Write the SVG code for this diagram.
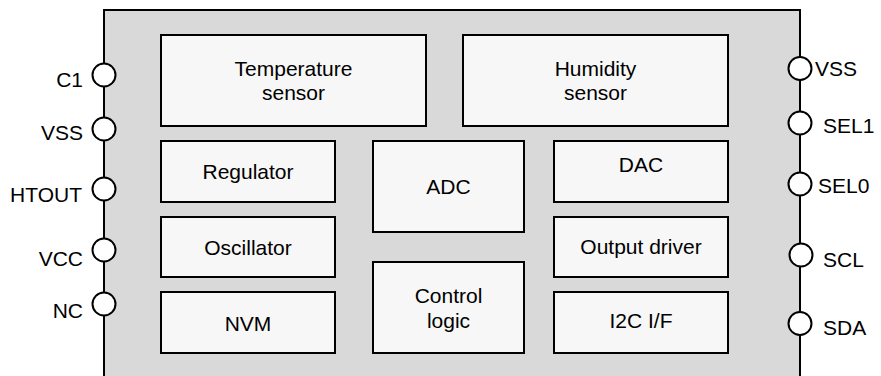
<svg xmlns="http://www.w3.org/2000/svg" width="881" height="376" viewBox="0 0 881 376">
<style>
.chip{fill:#d9d9d9;stroke:#000;stroke-width:2}
.blk{fill:#f7f7f7;stroke:#000;stroke-width:2}
.pin{fill:#fff;stroke:#000;stroke-width:2}
text{font-family:"Liberation Sans",Arial,sans-serif;font-size:21px;fill:#000}
.c{text-anchor:middle}
.l{text-anchor:end}
</style>
<rect id="chip" class="chip" x="104" y="10" width="696" height="420"/>
<g id="temp"><rect class="blk" x="161" y="35" width="265" height="91"/><text class="c" x="293.5" y="76">Temperature</text><text class="c" x="293.5" y="100">sensor</text></g>
<g id="hum"><rect class="blk" x="463" y="35" width="265" height="91"/><text class="c" x="595.5" y="76">Humidity</text><text class="c" x="595.5" y="100">sensor</text></g>
<g id="reg"><rect class="blk" x="161" y="141" width="174" height="61"/><text class="c" x="248" y="179">Regulator</text></g>
<g id="osc"><rect class="blk" x="161" y="217" width="174" height="60"/><text class="c" x="248" y="255">Oscillator</text></g>
<g id="nvm"><rect class="blk" x="161" y="292" width="174" height="61"/><text class="c" x="248" y="331">NVM</text></g>
<g id="adc"><rect class="blk" x="373" y="141" width="151" height="91"/><text class="c" x="448.5" y="194">ADC</text></g>
<g id="ctl"><rect class="blk" x="373" y="262" width="151" height="91"/><text class="c" x="448.5" y="303">Control</text><text class="c" x="448.5" y="328">logic</text></g>
<g id="dac"><rect class="blk" x="554" y="141" width="174" height="61"/><text class="c" x="641" y="172">DAC</text></g>
<g id="out"><rect class="blk" x="554" y="217" width="174" height="60"/><text class="c" x="641" y="254">Output driver</text></g>
<g id="i2c"><rect class="blk" x="554" y="292" width="174" height="61"/><text class="c" x="641" y="328">I2C I/F</text></g>
<g id="pin-c1"><circle class="pin" cx="104" cy="75" r="11.5"/><text class="l" x="83" y="87">C1</text></g>
<g id="pin-vss-l"><circle class="pin" cx="104" cy="129" r="11.5"/><text class="l" x="83" y="140">VSS</text></g>
<g id="pin-htout"><circle class="pin" cx="104" cy="189" r="11.5"/><text class="l" x="82" y="202">HTOUT</text></g>
<g id="pin-vcc"><circle class="pin" cx="104" cy="250" r="11.5"/><text class="l" x="83" y="266">VCC</text></g>
<g id="pin-nc"><circle class="pin" cx="104" cy="304" r="11.5"/><text class="l" x="83" y="318">NC</text></g>
<g id="pin-vss-r"><circle class="pin" cx="800" cy="68.5" r="11.5"/><text x="815" y="76">VSS</text></g>
<g id="pin-sel1"><circle class="pin" cx="800" cy="123" r="11.5"/><text x="823" y="133">SEL1</text></g>
<g id="pin-sel0"><circle class="pin" cx="800" cy="184" r="11.5"/><text x="818" y="193">SEL0</text></g>
<g id="pin-scl"><circle class="pin" cx="801" cy="255" r="11.5"/><text x="823" y="267">SCL</text></g>
<g id="pin-sda"><circle class="pin" cx="800" cy="323.5" r="11.5"/><text x="823" y="335">SDA</text></g>
<g id="connectors"></g>
</svg>
